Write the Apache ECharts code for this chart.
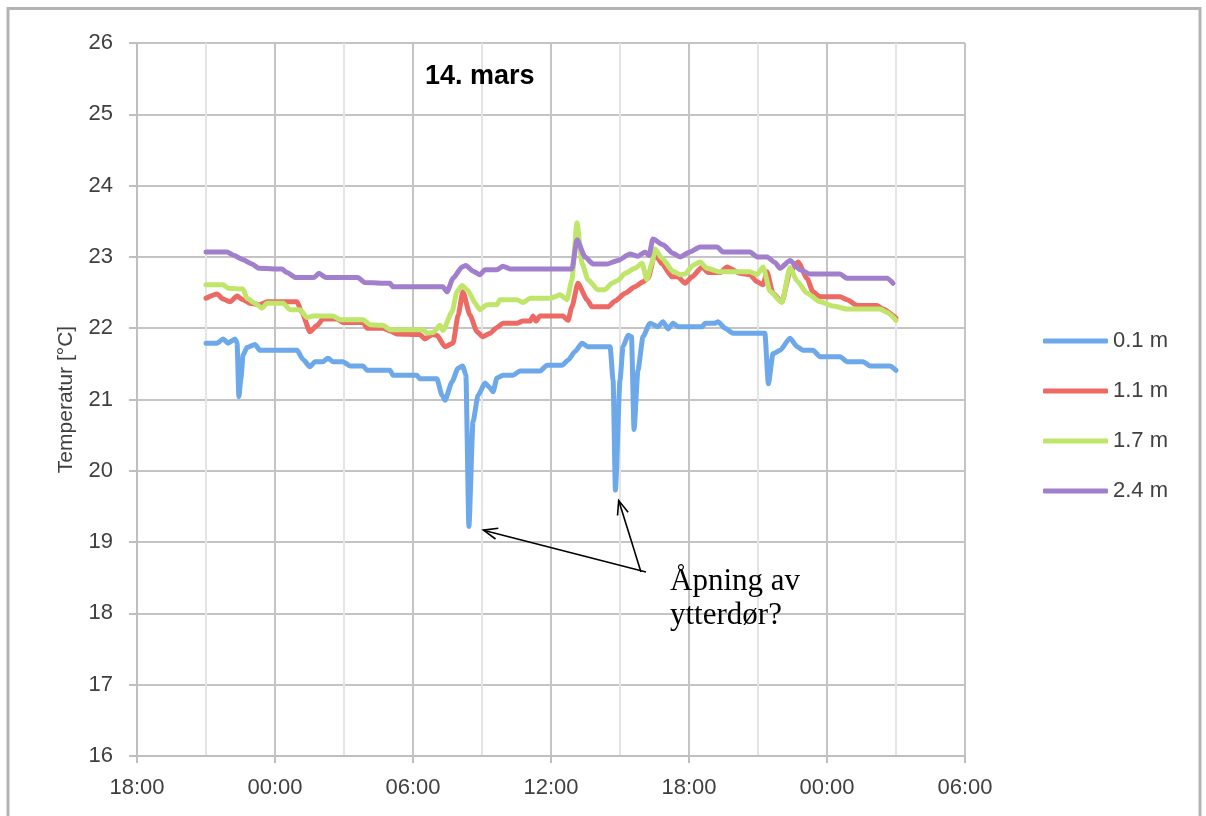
<!DOCTYPE html>
<html>
<head>
<meta charset="utf-8">
<title>Temperatur 14. mars</title>
<script src="https://cdn.jsdelivr.net/npm/echarts@6/dist/echarts.min.js"></script>
<style>
  html, body { margin: 0; padding: 0; background: #fff; }
  #chart { width: 1206px; height: 816px; }
</style>
</head>
<body>
<div id="chart"></div>
<script>
// Time is given in hours counted from 18:00 the evening before (13 March).
const seriesNames = ['0.1 m', '1.1 m', '1.7 m', '2.4 m'];
const seriesColors = ['#6ca8ea', '#ec6a63', '#bfe66a', '#a27fcd'];
const xTickHours = [0, 6, 12, 18, 24, 30, 36];
const titleText = '14. mars';
const yAxisTitle = 'Temperatur [°C]';
const noteLines = ['Åpning av', 'ytterdør?'];

// 0.1 m over the floor
const t01 = [
  [3.0,21.79],[3.48,21.79],[3.74,21.85],[3.96,21.79],[4.26,21.85],[4.35,21.80],[4.43,21.04],[4.52,21.30],
  [4.61,21.62],[4.78,21.73],[5.13,21.77],[5.35,21.69],[6.96,21.69],[7.22,21.56],[7.52,21.46],[7.74,21.53],
  [8.09,21.53],[8.30,21.58],[8.52,21.53],[8.96,21.53],[9.26,21.47],[9.83,21.47],[10.0,21.41],[11.0,21.41],
  [11.13,21.34],[12.17,21.34],[12.30,21.29],[13.04,21.29],[13.26,21.06],[13.39,20.99],[13.70,21.25],
  [13.96,21.44],[14.17,21.47],[14.30,21.34],[14.43,19.22],[14.61,20.69],[14.83,21.06],[15.13,21.23],
  [15.30,21.18],[15.48,21.11],[15.65,21.30],[15.91,21.34],[16.35,21.34],[16.65,21.40],[17.52,21.40],
  [17.83,21.48],[18.48,21.48],[18.74,21.55],[19.04,21.67],[19.35,21.79],[19.61,21.74],[20.57,21.74],
  [20.70,21.27],[20.80,19.73],[21.0,21.27],[21.13,21.74],[21.35,21.90],[21.50,21.88],[21.61,20.58],
  [21.78,21.41],[22.0,21.88],[22.30,22.07],[22.65,22.02],[22.87,22.09],[23.09,21.99],[23.30,22.07],
  [23.52,22.02],[24.57,22.02],[24.70,22.07],[25.13,22.07],[25.26,22.09],[25.57,22.00],[25.91,21.93],
  [27.30,21.93],[27.45,21.22],[27.65,21.64],[27.96,21.69],[28.39,21.86],[28.70,21.74],[28.96,21.69],
  [29.39,21.69],[29.70,21.60],[30.57,21.60],[30.87,21.53],[31.57,21.53],[31.87,21.47],[32.74,21.47],
  [33.0,21.41]
];

// 1.1 m over the floor
const t11 = [
  [3.0,22.42],[3.48,22.48],[3.74,22.41],[4.04,22.37],[4.35,22.45],[4.61,22.40],[4.91,22.35],[5.35,22.33],
  [5.65,22.37],[6.96,22.37],[7.17,22.22],[7.52,21.95],[7.83,22.04],[8.09,22.13],[8.70,22.13],[8.96,22.08],
  [9.83,22.08],[10.0,22.0],[10.70,22.0],[11.0,21.96],[11.30,21.92],[12.30,21.91],[12.52,21.85],[12.83,21.91],
  [13.04,21.90],[13.39,21.74],[13.74,21.79],[13.96,22.18],[14.17,22.51],[14.48,22.18],[14.78,21.95],
  [15.04,21.88],[15.35,21.93],[15.65,22.01],[15.91,22.07],[16.52,22.07],[16.78,22.10],[17.09,22.10],
  [17.22,22.17],[17.35,22.10],[17.52,22.17],[18.52,22.17],[18.74,22.11],[18.91,22.30],[19.17,22.63],
  [19.57,22.40],[19.78,22.30],[20.48,22.30],[20.78,22.38],[21.22,22.49],[21.65,22.58],[22.0,22.65],
  [22.22,22.70],[22.52,23.04],[22.83,22.90],[23.26,22.72],[23.52,22.72],[23.83,22.63],[24.13,22.72],
  [24.57,22.86],[24.83,22.78],[25.35,22.78],[25.65,22.86],[26.22,22.77],[26.65,22.75],[26.96,22.65],
  [27.22,22.61],[27.39,22.79],[27.65,22.49],[28.04,22.37],[28.39,22.79],[28.74,22.93],[29.13,22.70],
  [29.39,22.51],[29.70,22.44],[30.57,22.44],[30.87,22.40],[31.30,22.32],[32.17,22.32],[32.43,22.27],
  [33.0,22.14]
];

// 1.7 m over the floor
const t17 = [
  [3.0,22.61],[3.74,22.61],[3.96,22.56],[4.61,22.55],[4.78,22.42],[5.13,22.35],[5.43,22.28],[5.65,22.35],
  [6.35,22.35],[6.65,22.26],[7.09,22.26],[7.39,22.15],[7.65,22.17],[8.52,22.17],[8.83,22.12],[9.83,22.12],
  [10.13,22.05],[10.70,22.04],[11.0,21.98],[12.43,21.98],[12.61,21.93],[12.87,21.94],[13.17,22.04],
  [13.30,21.97],[13.70,22.23],[13.91,22.51],[14.13,22.60],[14.39,22.53],[14.70,22.35],[14.91,22.26],
  [15.22,22.33],[15.65,22.33],[15.78,22.40],[16.52,22.40],[16.78,22.36],[17.09,22.42],[17.96,22.42],
  [18.17,22.44],[18.39,22.47],[18.70,22.40],[18.91,22.68],[19.13,23.48],[19.35,22.91],[19.61,22.68],
  [20.04,22.54],[20.35,22.54],[20.65,22.63],[20.91,22.67],[21.22,22.77],[21.65,22.84],[21.96,22.91],
  [22.17,22.68],[22.39,22.91],[22.52,23.11],[22.83,22.98],[23.30,22.80],[23.61,22.75],[23.83,22.76],
  [24.17,22.88],[24.48,22.93],[24.78,22.84],[25.35,22.79],[26.65,22.79],[26.96,22.75],[27.22,22.86],
  [27.52,22.52],[28.04,22.36],[28.39,22.85],[28.70,22.66],[29.13,22.49],[29.70,22.37],[30.26,22.31],
  [30.87,22.27],[32.30,22.27],[32.61,22.22],[33.0,22.11]
];

// 2.4 m over the floor
const t24 = [
  [3.0,23.07],[3.91,23.07],[4.22,23.02],[4.61,22.96],[5.0,22.90],[5.30,22.84],[6.30,22.83],[6.52,22.78],
  [6.91,22.71],[7.70,22.71],[7.91,22.77],[8.22,22.71],[9.60,22.71],[9.91,22.64],[11.0,22.63],[11.13,22.58],
  [13.30,22.58],[13.48,22.51],[13.74,22.70],[14.13,22.86],[14.30,22.88],[14.61,22.80],[14.91,22.75],
  [15.13,22.82],[15.65,22.82],[15.91,22.87],[16.22,22.83],[18.91,22.83],[19.13,23.24],[19.48,23.0],
  [19.83,22.90],[20.43,22.90],[20.91,22.95],[21.43,23.04],[21.78,23.01],[22.09,23.07],[22.26,23.02],
  [22.43,23.25],[22.87,23.17],[23.30,23.05],[23.61,23.0],[24.04,23.07],[24.48,23.14],[25.22,23.14],
  [25.48,23.07],[26.65,23.07],[26.96,23.0],[27.40,23.0],[27.74,22.92],[27.96,22.84],[28.39,22.95],
  [28.83,22.82],[29.26,22.76],[30.57,22.76],[30.87,22.70],[32.61,22.70],[32.87,22.63]
];

const seriesData = [t01, t11, t17, t24];

// Hour windows holding the two door-opening dips on the 0.1 m curve
const doorWindows = [[14, 15], [20.5, 21.2]];

const FONT = '"Liberation Sans", Arial, sans-serif';
const GRID = { left: 137, right: 241, top: 43, bottom: 60 };

function hourLabel(h) {
  const hh = (18 + h) % 24;
  return (hh < 10 ? '0' : '') + hh + ':00';
}

const chart = echarts.init(document.getElementById('chart'), null, { renderer: 'canvas' });

const option = {
  backgroundColor: '#ffffff',
  animation: false,
  color: seriesColors,
  title: {
    text: titleText,
    left: 420,
    top: 58,
    padding: 5,
    textStyle: { fontFamily: FONT, fontSize: 27, fontWeight: 'bold', color: '#000000' }
  },
  legend: {
    orient: 'vertical',
    left: 1043,
    top: 330,
    padding: 0,
    itemWidth: 65,
    itemHeight: 5,
    itemGap: 28,
    icon: 'roundRect',
    data: seriesNames,
    textStyle: { fontFamily: FONT, fontSize: 22, lineHeight: 22, color: '#404040', padding: [0, 0, 0, 0] }
  },
  grid: { left: GRID.left, right: GRID.right, top: GRID.top, bottom: GRID.bottom, containLabel: false },
  xAxis: {
    type: 'value',
    min: xTickHours[0],
    max: xTickHours[xTickHours.length - 1],
    interval: 6,
    axisLine: { show: true, onZero: false, lineStyle: { color: '#bfbfbf', width: 2 } },
    axisTick: { show: true, inside: false, length: 7, lineStyle: { color: '#bfbfbf', width: 2 } },
    axisLabel: { margin: 21, fontFamily: FONT, fontSize: 22, color: '#404040', formatter: hourLabel },
    splitLine: { show: true, lineStyle: { color: '#c4c4c4', width: 2 } },
    minorTick: { show: false, splitNumber: 2 },
    minorSplitLine: { show: true, lineStyle: { color: '#e4e4e4', width: 2 } }
  },
  yAxis: {
    type: 'value',
    min: 16,
    max: 26,
    interval: 1,
    name: yAxisTitle,
    nameLocation: 'middle',
    nameRotate: 90,
    nameGap: 60,
    nameTextStyle: { fontFamily: FONT, fontSize: 21, color: '#404040' },
    axisLine: { show: true, lineStyle: { color: '#bfbfbf', width: 2 } },
    axisTick: { show: true, inside: false, length: 8, lineStyle: { color: '#bfbfbf', width: 2 } },
    axisLabel: { margin: 24, fontFamily: FONT, fontSize: 22, color: '#404040' },
    splitLine: { show: true, lineStyle: { color: '#c4c4c4', width: 2 } }
  },
  series: seriesNames.map((name, i) => ({
    name: name,
    type: 'line',
    data: seriesData[i],
    showSymbol: false,
    symbol: 'none',
    smooth: 0.2,
    smoothMonotone: 'x',
    lineStyle: { color: seriesColors[i], width: 5, cap: 'round', join: 'round' },
    itemStyle: { color: seriesColors[i] },
    z: 2 + i
  }))
};

chart.setOption(option);

// Outer frame of the chart area
const graphics = [{
  type: 'rect',
  shape: { x: 8, y: 8.5, width: 1192, height: 830 },
  style: { fill: 'none', stroke: '#b4b4b4', lineWidth: 3 },
  silent: true,
  z: 100
}];

// Note text with arrows pointing at the two dips of the 0.1 m curve
const noteX = 670, noteTop = 565;
graphics.push({
  type: 'text',
  style: {
    x: noteX, y: noteTop,
    text: noteLines.join('\n'),
    font: '31px "Liberation Serif", "Times New Roman", serif',
    lineHeight: 34,
    fill: '#000000',
    textAlign: 'left',
    textVerticalAlign: 'top'
  },
  silent: true,
  z: 100
});

const anchors = [[noteX - 24, noteTop + 7], [noteX - 29, noteTop + 7]];
doorWindows.forEach((win, k) => {
  let best = null;
  t01.forEach(p => { if (p[0] >= win[0] && p[0] <= win[1] && (!best || p[1] < best[1])) best = p; });
  const px = chart.convertToPixel({ gridIndex: 0 }, best);
  const a = anchors[k];
  const dx = px[0] - a[0], dy = px[1] - a[1];
  const len = Math.sqrt(dx * dx + dy * dy);
  const ux = dx / len, uy = dy / len;
  const gap = k === 0 ? 15 : 11;
  const tip = [px[0] - ux * gap, px[1] - uy * gap];
  graphics.push({
    type: 'line',
    shape: { x1: a[0], y1: a[1], x2: tip[0], y2: tip[1] },
    style: { stroke: '#000000', lineWidth: 1.6 },
    silent: true, z: 100
  });
  // open arrow head
  const headLen = 15, ang = 0.38;
  const back = Math.atan2(-uy, -ux);
  const p1 = [tip[0] + headLen * Math.cos(back + ang), tip[1] + headLen * Math.sin(back + ang)];
  const p2 = [tip[0] + headLen * Math.cos(back - ang), tip[1] + headLen * Math.sin(back - ang)];
  graphics.push({
    type: 'polyline',
    shape: { points: [p1, tip, p2] },
    style: { stroke: '#000000', lineWidth: 1.6, fill: 'none' },
    silent: true, z: 100
  });
});

chart.setOption({ graphic: graphics });
</script>
</body>
</html>
